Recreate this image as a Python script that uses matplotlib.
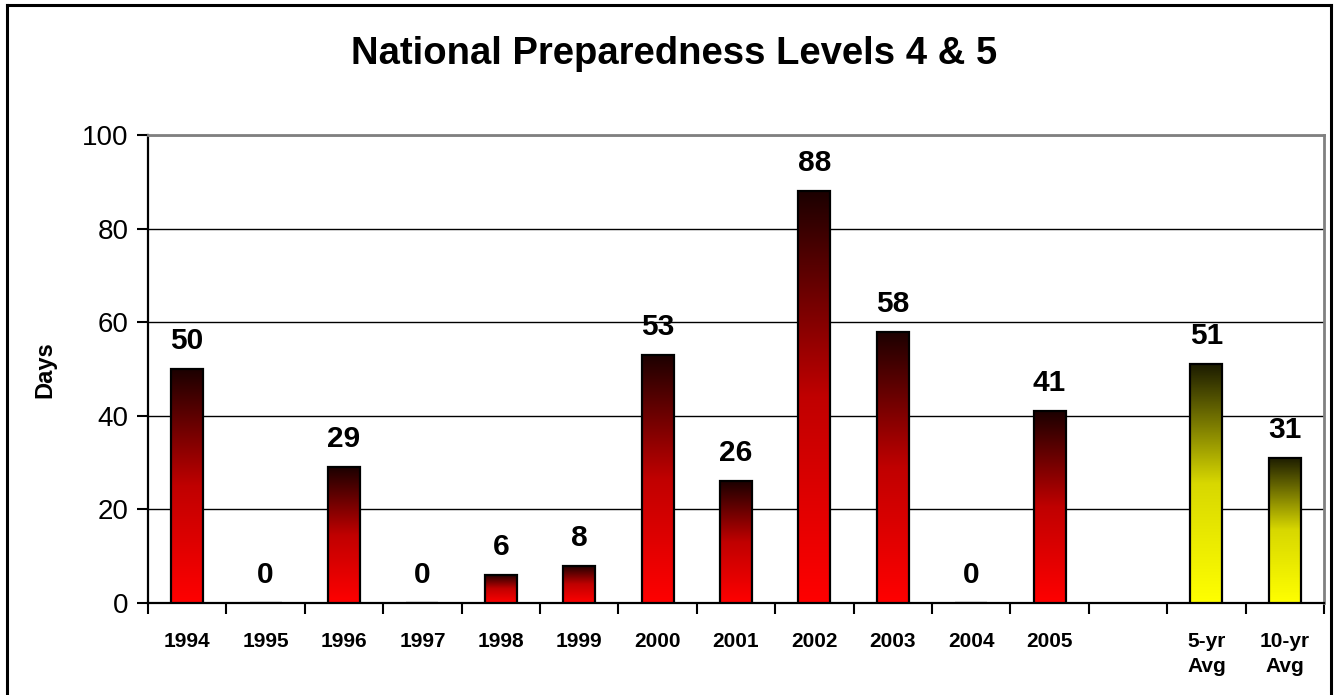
import matplotlib.pyplot as plt
import numpy as np
from matplotlib.colors import LinearSegmentedColormap
from matplotlib.lines import Line2D

plt.rcParams['font.family'] = ['Liberation Sans', 'DejaVu Sans']

categories = ['1994', '1995', '1996', '1997', '1998', '1999', '2000', '2001',
              '2002', '2003', '2004', '2005', '', '5-yr\nAvg', '10-yr\nAvg']
days = [50, 0, 29, 0, 6, 8, 53, 26, 88, 58, 0, 41, None, 51, 31]
kind = ['y'] * 12 + [None, 'avg', 'avg']

red_cmap = LinearSegmentedColormap.from_list('r', ['#ff0000', '#c00000', '#1c0000'])
yel_cmap = LinearSegmentedColormap.from_list('y', ['#ffff00', '#d8d800', '#1c1c00'])

fig = plt.figure(figsize=(13.34, 6.95), dpi=100)
ax = fig.add_axes([148 / 1334, 1 - 603 / 695, (1324 - 148) / 1334, (603 - 135) / 695])

x = np.arange(len(categories))
vals = [v if v is not None else 0 for v in days]
bars = ax.bar(x, vals, width=0.41, facecolor='none', edgecolor='black',
              linewidth=1.6, zorder=4)

grad = np.linspace(0, 1, 256).reshape(-1, 1)
for b, v, k in zip(bars, days, kind):
    if v is None:
        b.set_visible(False)
        continue
    if v > 0:
        cm = red_cmap if k == 'y' else yel_cmap
        ax.imshow(grad, extent=[b.get_x(), b.get_x() + b.get_width(), 0, v],
                  origin='lower', aspect='auto', cmap=cm, zorder=3)
    ax.annotate(str(v), (b.get_x() + b.get_width() / 2, v), xytext=(0, 10),
                textcoords='offset points', ha='center', va='bottom',
                fontsize=21.5, fontweight='bold')

ax.set_xlim(-0.5, len(categories) - 0.5)
ax.set_ylim(0, 100)
ax.set_yticks([0, 20, 40, 60, 80, 100])
ax.tick_params(axis='y', labelsize=20, length=8, width=1.5, direction='out', pad=6)
ax.yaxis.grid(True, color='black', linewidth=1.0, zorder=1)
ax.set_axisbelow(True)

ax.set_xticks(x)
ax.set_xticklabels(categories, fontsize=15, fontweight='bold', linespacing=1.4)
ax.tick_params(axis='x', length=0, pad=21)
ax.set_xticks(np.arange(len(categories) + 1) - 0.5, minor=True)
ax.tick_params(axis='x', which='minor', length=8, width=1.5, direction='out')

for s in ['left', 'bottom']:
    ax.spines[s].set_linewidth(1.6)
    ax.spines[s].set_color('black')
for s in ['top', 'right']:
    ax.spines[s].set_linewidth(2)
    ax.spines[s].set_color('#808080')

fig.text(0.505, 0.922, 'National Preparedness Levels 4 & 5', ha='center', va='center',
         fontsize=27.5, fontweight='bold')
fig.text(45 / 1334, 1 - 370 / 695, 'Days', rotation=90, ha='center', va='center',
         fontsize=17, fontweight='bold')

# outer frame
X0, X1, Y1 = 7 / 1334, 1331 / 1334, 1 - 5 / 695
for xs, ys in [([X0, X0], [0, Y1]), ([X0, X1], [Y1, Y1]), ([X1, X1], [Y1, 0])]:
    fig.add_artist(Line2D(xs, ys, color='black', linewidth=2.2))

fig.savefig('out.png', dpi=100)
